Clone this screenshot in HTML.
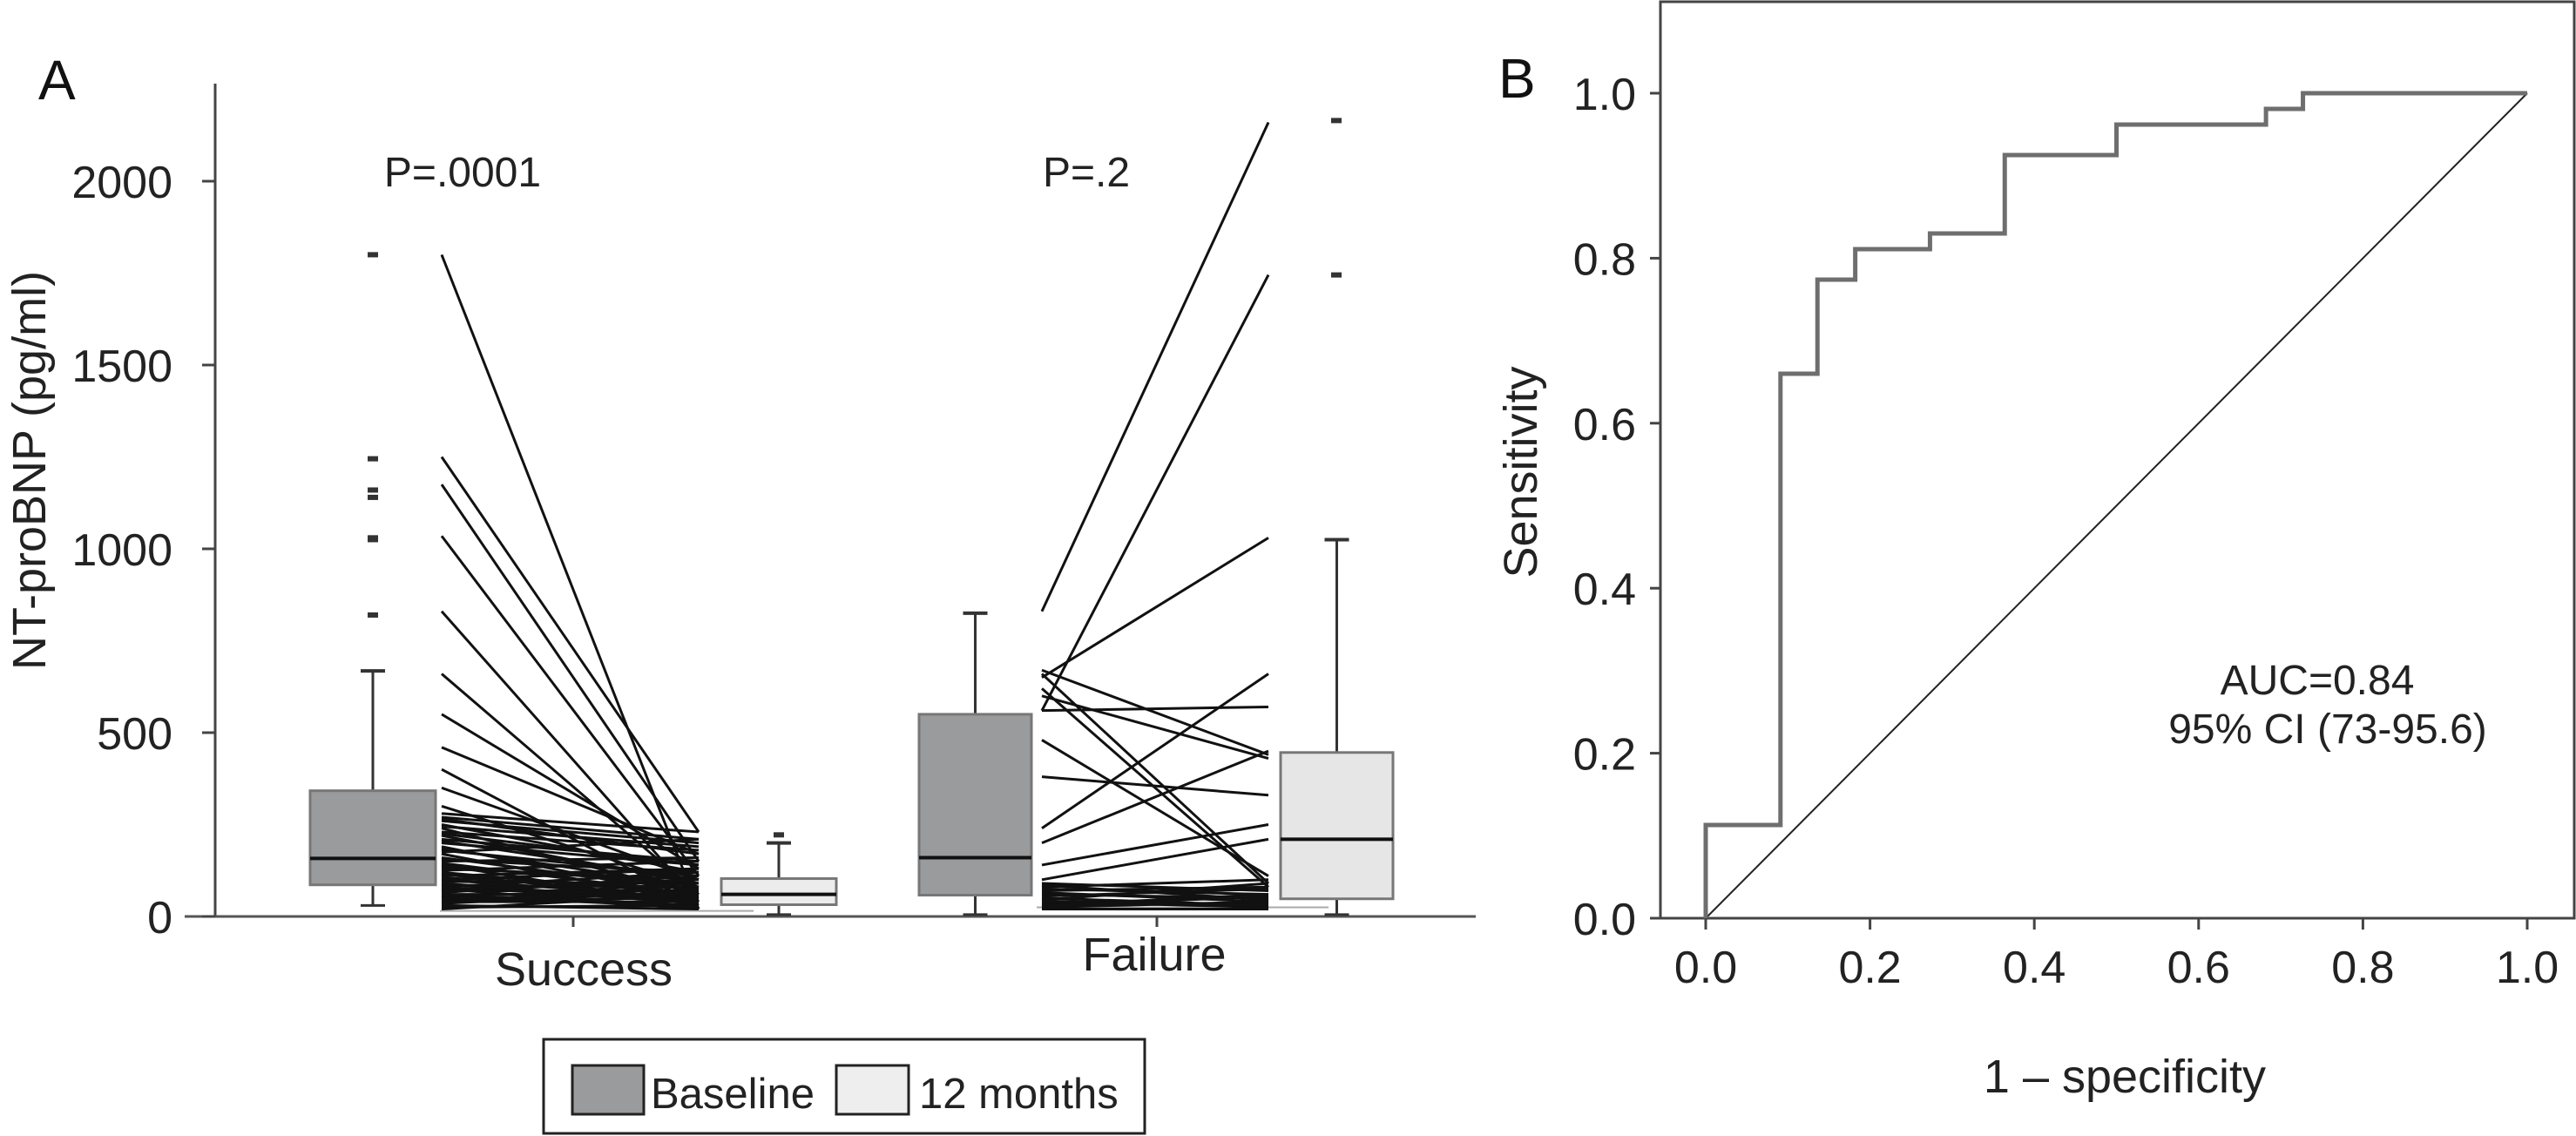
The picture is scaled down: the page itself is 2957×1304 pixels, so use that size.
<!DOCTYPE html>
<html><head><meta charset="utf-8"><style>
html,body{margin:0;padding:0;background:#fff;}
svg{display:block;font-family:"Liberation Sans",sans-serif;}
</style></head><body>
<svg id="chart" width="2957" height="1304" viewBox="0 0 2957 1304" xmlns="http://www.w3.org/2000/svg">
</svg>
<script>
// Panel A data
const boxGroups = ['Success baseline','Success 12 months','Failure baseline','Failure 12 months'];
const boxMin = [30, 5, 5, 5];
const boxQ1 = [86, 32, 58, 48];
const boxMed = [158, 60, 160, 210];
const boxQ3 = [342, 103, 550, 446];
const boxMax = [668, 200, 825, 1025];
const outliersSuccessBase = [820, 1025, 1030, 1140, 1160, 1245, 1800];
const outliersSuccess12 = [222];
const outliersFailure12 = [1745, 2165];
const successBefore = [1800,1250,1175,1035,830,660,550,460,400,350,300,280,270,260,250,240,230,220,210,200,190,180,170,160,150,140,130,120,110,100,95,90,85,80,75,70,65,60,55,50,45,40,35,30,25,20,265,245,225,205,185,175,155,145,135,125,115,105,98,88,78,68,58,48];
const successAfter  = [20,230,150,110,40,60,130,170,30,100,80,230,210,200,120,60,180,90,150,140,50,110,40,70,160,30,100,60,130,50,90,40,80,120,20,70,110,60,30,90,50,40,70,20,30,60,170,190,140,100,80,210,120,60,90,150,45,75,130,35,55,100,25,65];
const failureBefore = [830,560,650,670,620,560,600,380,240,200,140,100,660,480,90,80,75,70,65,60,50,45,40,35,30,25,20,85,55,42,28];
const failureAfter  = [2160,1745,1030,440,80,570,430,330,660,450,250,210,90,110,70,100,60,80,40,50,30,90,25,35,60,40,20,45,75,30,55];
const yTicksA = [0,500,1000,1500,2000];
// Panel B data
const rocX = [0,0,0.091,0.091,0.136,0.136,0.182,0.182,0.273,0.273,0.364,0.364,0.5,0.5,0.682,0.682,0.727,0.727,1];
const rocY = [0,0.113,0.113,0.66,0.66,0.774,0.774,0.811,0.811,0.83,0.83,0.925,0.925,0.962,0.962,0.981,0.981,1,1];
const ticksB = [0,0.2,0.4,0.6,0.8,1.0];

const svg = document.getElementById('chart');
const NS = 'http://www.w3.org/2000/svg';
function mk(tag, attrs, parent){
  const e = document.createElementNS(NS, tag);
  for (const k in attrs) e.setAttribute(k, attrs[k]);
  (parent||svg).appendChild(e);
  return e;
}
function txt(s, attrs){ const t = mk('text', attrs); t.textContent = s; return t; }

// ---- Panel A ----
const yA = v => 1052 - v * (844/2000);
let e;
e = mk('line',{x1:247,y1:96,x2:247,y2:1052,stroke:'#444','stroke-width':3});


e = mk('line',{x1:212,y1:1052,x2:1694,y2:1052,stroke:'#555','stroke-width':3});


yTicksA.forEach(v=>{
  mk('line',{x1:232,y1:yA(v),x2:247,y2:yA(v),stroke:'#444','stroke-width':3});
  e = txt(String(v),{x:198,y:yA(v)+19,'text-anchor':'end','font-size':52,fill:'#222'});
  
  
});
[658,1328].forEach(x=>mk('line',{x1:x,y1:1052,x2:x,y2:1064,stroke:'#444','stroke-width':3}));
e = txt('A',{x:44,y:114,'font-size':64,fill:'#111'});


e = txt('NT-proBNP (pg/ml)',{x:0,y:0,'text-anchor':'middle','font-size':54,fill:'#222',transform:'translate(52,540) rotate(-90)'});


e = txt('P=.0001',{x:531,y:214,'text-anchor':'middle','font-size':48,fill:'#222'});


e = txt('P=.2',{x:1247,y:214,'text-anchor':'middle','font-size':48,fill:'#222'});


e = txt('Success',{x:670,y:1131,'text-anchor':'middle','font-size':54,fill:'#222'});


e = txt('Failure',{x:1325,y:1114,'text-anchor':'middle','font-size':54,fill:'#222'});



// faint baseline lines
mk('line',{x1:505,y1:yA(15),x2:865,y2:yA(15),stroke:'#aaa','stroke-width':2});
mk('line',{x1:1190,y1:yA(25),x2:1525,y2:yA(25),stroke:'#aaa','stroke-width':2});

// boxes
const boxL = [356, 828, 1055, 1470];
const boxR = [500, 960, 1184, 1599];
const boxFill = ['#9a9b9d','#ececec','#9a9b9d','#e6e6e6'];
boxGroups.forEach((g,i)=>{
  const cx = (boxL[i]+boxR[i])/2;
  mk('line',{x1:cx,y1:yA(boxMax[i]),x2:cx,y2:yA(boxQ3[i]),stroke:'#333','stroke-width':3});
  mk('line',{x1:cx,y1:yA(boxQ1[i]),x2:cx,y2:yA(boxMin[i]),stroke:'#333','stroke-width':3});
  mk('line',{x1:cx-14,y1:yA(boxMax[i]),x2:cx+14,y2:yA(boxMax[i]),stroke:'#333','stroke-width':4});
  mk('line',{x1:cx-14,y1:yA(boxMin[i]),x2:cx+14,y2:yA(boxMin[i]),stroke:'#333','stroke-width':3});
  const r = mk('rect',{x:boxL[i],y:yA(boxQ3[i]),width:boxR[i]-boxL[i],height:yA(boxQ1[i])-yA(boxQ3[i]),fill:boxFill[i],stroke:'#777','stroke-width':3});
  
  
  mk('line',{x1:boxL[i],y1:yA(boxMed[i]),x2:boxR[i],y2:yA(boxMed[i]),stroke:'#111','stroke-width':4});
});
function outl(arr, cx){
  arr.forEach(v=>{
    const o = mk('rect',{x:cx-6,y:yA(v)-3,width:12,height:6,fill:'#333'});
    
    
  });
}
outl(outliersSuccessBase,428); outl(outliersSuccess12,894); outl(outliersFailure12,1534);

// paired lines
successBefore.forEach((v,i)=>{
  const l = mk('line',{x1:507,y1:yA(v),x2:802,y2:yA(successAfter[i]),stroke:'#111','stroke-width':3});
  
  
});
failureBefore.forEach((v,i)=>{
  const l = mk('line',{x1:1196,y1:yA(v),x2:1456,y2:yA(failureAfter[i]),stroke:'#111','stroke-width':3});
  
  
});

// legend
e = mk('rect',{x:624,y:1193,width:690,height:108,fill:'#fff',stroke:'#222','stroke-width':3});


e = mk('rect',{x:657,y:1223,width:82,height:56,fill:'#9a9b9d',stroke:'#222','stroke-width':3});


e = txt('Baseline',{x:747,y:1272,'font-size':49,fill:'#222'});


e = mk('rect',{x:960,y:1223,width:83,height:56,fill:'#eeeeee',stroke:'#222','stroke-width':3});


e = txt('12 months',{x:1055,y:1272,'font-size':49,fill:'#222'});



// ---- Panel B ----
const xB = v => 1958 + v*(2901-1958);
const yB = v => 1054 - v*(1054-107);
e = mk('rect',{x:1906,y:2,width:1049,height:1052,fill:'none',stroke:'#444','stroke-width':3});


ticksB.forEach(v=>{
  mk('line',{x1:xB(v),y1:1054,x2:xB(v),y2:1067,stroke:'#444','stroke-width':3});
  e = txt(v.toFixed(1),{x:xB(v),y:1128,'text-anchor':'middle','font-size':52,fill:'#222'});
  
  
  mk('line',{x1:1894,y1:yB(v),x2:1906,y2:yB(v),stroke:'#444','stroke-width':3});
  e = txt(v.toFixed(1),{x:1878,y:yB(v)+19,'text-anchor':'end','font-size':52,fill:'#222'});
  
  
});
e = mk('line',{x1:xB(0),y1:yB(0),x2:xB(1),y2:yB(1),stroke:'#222','stroke-width':2});


const pts = rocX.map((x,i)=>xB(x)+','+yB(rocY[i])).join(' ');
e = mk('polyline',{points:pts,fill:'none',stroke:'#6e6e6e','stroke-width':5});


e = txt('B',{x:1720,y:112,'font-size':64,fill:'#111'});


e = txt('Sensitivity',{x:0,y:0,'text-anchor':'middle','font-size':54,fill:'#222',transform:'translate(1764,542) rotate(-90)'});


e = txt('1 – specificity',{x:2439,y:1254,'text-anchor':'middle','font-size':54,fill:'#222'});


e = txt('AUC=0.84',{x:2660,y:797,'text-anchor':'middle','font-size':48,fill:'#222'});


e = txt('95% CI (73-95.6)',{x:2672,y:853,'text-anchor':'middle','font-size':48,fill:'#222'});


</script>
</body></html>
